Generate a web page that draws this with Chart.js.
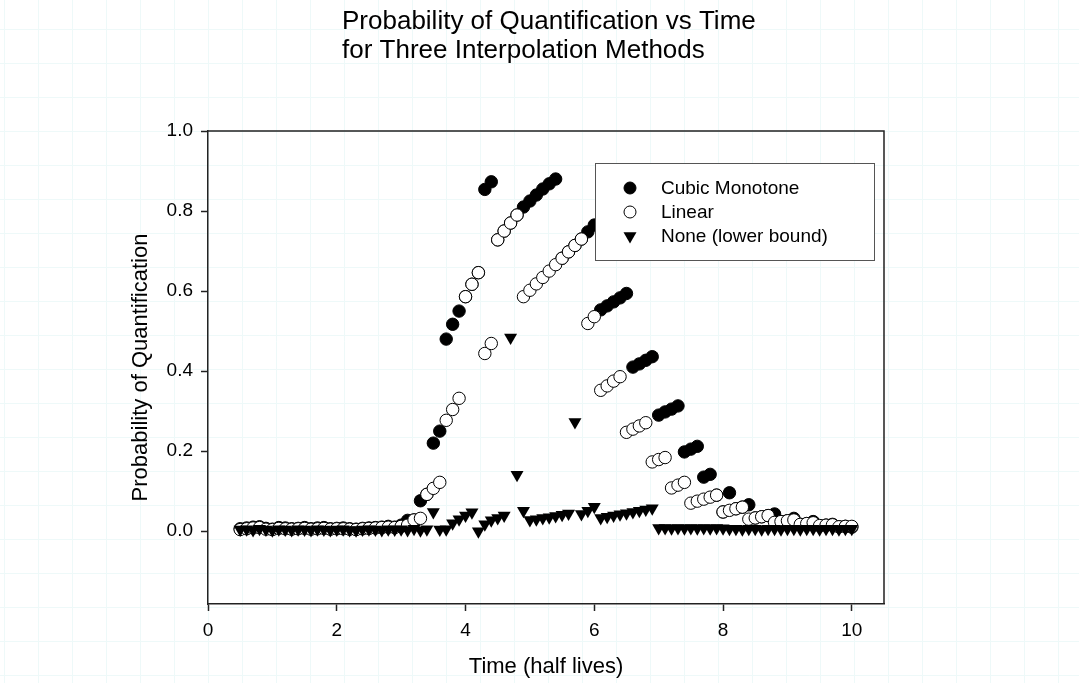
<!DOCTYPE html>
<html>
<head>
<meta charset="utf-8">
<script src="https://cdn.jsdelivr.net/npm/chart.js@4.4.1/dist/chart.umd.min.js"></script>
<style>
  html, body { margin: 0; padding: 0; background: #fff; }
  canvas { display: block; }
</style>
</head>
<body>
<canvas id="quantChart" width="1079" height="683"></canvas>
<script>
// time axis (half lives)
const times = [
  0.5, 0.6, 0.7, 0.8, 0.9, 1.0, 1.1, 1.2, 1.3, 1.4, 1.5, 1.6, 1.7, 1.8, 1.9, 2.0,
  2.1, 2.2, 2.3, 2.4, 2.5, 2.6, 2.7, 2.8, 2.9, 3.0,
  3.1, 3.2, 3.3, 3.4, 3.5, 3.6, 3.7, 3.8, 3.9, 4.0,
  4.1, 4.2, 4.3, 4.4, 4.5, 4.6, 4.7, 4.8, 4.9, 5.0,
  5.1, 5.2, 5.3, 5.4, 5.5, 5.6, 5.7, 5.8, 5.9, 6.0,
  6.1, 6.2, 6.3, 6.4, 6.5, 6.6, 6.7, 6.8, 6.9, 7.0,
  7.1, 7.2, 7.3, 7.4, 7.5, 7.6, 7.7, 7.8, 7.9, 8.0,
  8.1, 8.2, 8.3, 8.4, 8.5, 8.6, 8.7, 8.8, 8.9, 9.0,
  9.1, 9.2, 9.3, 9.4, 9.5, 9.6, 9.7, 9.8, 9.9, 10.0
];

const cubicMonotone = [
  0.006, 0.008, 0.010, 0.011, 0.007, 0.005, 0.009, 0.008, 0.006, 0.007, 0.009, 0.006, 0.008,
  0.009, 0.006, 0.007, 0.008, 0.006, 0.005, 0.007, 0.008, 0.009, 0.010, 0.012, 0.010, 0.015,
  0.027, 0.028, 0.076, 0.092, 0.220, 0.250, 0.480, 0.517, 0.550, 0.586,
  0.617, 0.646, 0.854, 0.873, 0.728, 0.750, 0.770, 0.790, 0.810, 0.825,
  0.840, 0.855, 0.868, 0.880, 0.682, 0.698, 0.714, 0.730, 0.748, 0.765,
  0.553, 0.563, 0.573, 0.583, 0.594, 0.410, 0.418, 0.427, 0.436, 0.290,
  0.298, 0.305, 0.313, 0.198, 0.205, 0.212, 0.135, 0.142, 0.090, 0.048,
  0.096, 0.056, 0.060, 0.066, 0.033, 0.036, 0.039, 0.043, 0.024, 0.026,
  0.032, 0.017, 0.019, 0.024, 0.014, 0.015, 0.017, 0.011, 0.012, 0.010
];

const linearInterp = [
  0.004, 0.006, 0.008, 0.009, 0.005, 0.004, 0.007, 0.006, 0.005, 0.006, 0.007, 0.005, 0.006,
  0.007, 0.005, 0.006, 0.006, 0.005, 0.004, 0.006, 0.007, 0.008, 0.009, 0.010, 0.009, 0.012,
  0.015, 0.028, 0.032, 0.092, 0.107, 0.122, 0.277, 0.304, 0.332, 0.586,
  0.617, 0.646, 0.444, 0.469, 0.728, 0.750, 0.770, 0.790, 0.586, 0.602,
  0.618, 0.634, 0.650, 0.666, 0.682, 0.698, 0.714, 0.730, 0.519, 0.536,
  0.352, 0.363, 0.375, 0.386, 0.247, 0.255, 0.263, 0.271, 0.173, 0.179,
  0.184, 0.108, 0.115, 0.122, 0.070, 0.075, 0.080, 0.085, 0.090, 0.048,
  0.052, 0.056, 0.060, 0.030, 0.033, 0.036, 0.039, 0.022, 0.024, 0.026,
  0.028, 0.017, 0.019, 0.021, 0.014, 0.015, 0.016, 0.011, 0.012, 0.012
];

const noneLowerBound = [
  0.004, 0.005, 0.003, 0.006, 0.004, 0.002, 0.005, 0.004, 0.003, 0.005, 0.004, 0.003, 0.005,
  0.004, 0.003, 0.004, 0.005, 0.003, 0.002, 0.004, 0.005, 0.004, 0.003, 0.005, 0.004, 0.005,
  0.003, 0.006, 0.002, 0.005, 0.048, 0.004, 0.005, 0.020, 0.030, 0.039,
  0.047, 0.000, 0.017, 0.027, 0.033, 0.039, 0.484, 0.141, 0.051, 0.028,
  0.030, 0.033, 0.035, 0.038, 0.041, 0.044, 0.273, 0.043, 0.051, 0.061,
  0.033, 0.036, 0.039, 0.042, 0.045, 0.048, 0.051, 0.054, 0.057, 0.008,
  0.008, 0.007, 0.008, 0.007, 0.008, 0.007, 0.008, 0.007, 0.008, 0.007,
  0.006, 0.006, 0.005, 0.006, 0.006, 0.005, 0.006, 0.006, 0.005, 0.006,
  0.006, 0.005, 0.006, 0.006, 0.005, 0.006, 0.006, 0.005, 0.006, 0.006
];

const seriesNames = ["Cubic Monotone", "Linear", "None (lower bound)"];
const xTicks = [0, 2, 4, 6, 8, 10];
const yTicks = [0.0, 0.2, 0.4, 0.6, 0.8, 1.0];
const titleLines = ["Probability of Quantification vs Time", "for Three Interpolation Methods"];

const FONT = "'Liberation Sans', Arial, sans-serif";

const toPoints = (values) => times.map((t, i) => ({ x: t, y: values[i] }));

// faint page grid behind everything, like the original worksheet
const pageGrid = {
  id: "pageGrid",
  beforeDraw(chart) {
    const { ctx, width, height } = chart;
    ctx.save();
    ctx.fillStyle = "#ffffff";
    ctx.fillRect(0, 0, width, height);
    ctx.strokeStyle = "#eef9f9";
    ctx.lineWidth = 1;
    for (let x = 208 % 34; x < width; x += 34) {
      ctx.beginPath();
      ctx.moveTo(x + 0.5, 0);
      ctx.lineTo(x + 0.5, height);
      ctx.stroke();
    }
    for (let y = 131 % 34; y < height; y += 34) {
      ctx.beginPath();
      ctx.moveTo(0, y + 0.5);
      ctx.lineTo(width, y + 0.5);
      ctx.stroke();
    }
    ctx.restore();
  },
};

// top/right frame and the boxed legend inside the plot
const frameAndLegend = {
  id: "frameAndLegend",
  afterDatasetsDraw(chart) {
    const { ctx, chartArea } = chart;
    ctx.save();
    ctx.strokeStyle = "#222";
    ctx.lineWidth = 1.5;
    ctx.beginPath();
    ctx.moveTo(chartArea.left, chartArea.top);
    ctx.lineTo(chartArea.right, chartArea.top);
    ctx.lineTo(chartArea.right, chartArea.bottom);
    ctx.stroke();

    // legend box
    ctx.fillStyle = "#ffffff";
    ctx.fillRect(595, 163, 279, 97);
    ctx.strokeStyle = "#555";
    ctx.lineWidth = 1;
    ctx.strokeRect(595.5, 163.5, 279, 97);

    const rows = [188, 212, 236];
    const mx = 630;
    rows.forEach((y, i) => {
      ctx.beginPath();
      if (i === 2) {
        const r = 7.5;
        ctx.moveTo(mx, y + r);
        ctx.lineTo(mx - r * 0.866, y - r * 0.5);
        ctx.lineTo(mx + r * 0.866, y - r * 0.5);
        ctx.closePath();
        ctx.fillStyle = "#000";
        ctx.fill();
      } else {
        ctx.arc(mx, y, 6, 0, Math.PI * 2);
        ctx.fillStyle = i === 0 ? "#000" : "#fff";
        ctx.fill();
        ctx.strokeStyle = "#000";
        ctx.lineWidth = 1;
        ctx.stroke();
      }
      ctx.fillStyle = "#000";
      ctx.font = "19px " + FONT;
      ctx.textAlign = "left";
      ctx.textBaseline = "middle";
      ctx.fillText(seriesNames[i], 661, y + 1);
    });
    ctx.restore();
  },
  afterDraw(chart) {
    const { ctx } = chart;
    ctx.save();
    ctx.fillStyle = "#000";
    ctx.font = "26px " + FONT;
    ctx.textAlign = "left";
    ctx.textBaseline = "alphabetic";
    ctx.fillText(titleLines[0], 342, 29);
    ctx.fillText(titleLines[1], 342, 58);
    ctx.restore();
  },
};

const ctx = document.getElementById("quantChart").getContext("2d");

const quantChart = new Chart(ctx, {
  type: "scatter",
  data: {
    datasets: [
      {
        label: seriesNames[0],
        data: toPoints(cubicMonotone),
        pointStyle: "circle",
        pointRadius: 6.2,
        backgroundColor: "#000",
        borderColor: "#000",
        borderWidth: 1,
        order: 3,
      },
      {
        label: seriesNames[1],
        data: toPoints(linearInterp),
        pointStyle: "circle",
        pointRadius: 6.2,
        backgroundColor: "#fff",
        borderColor: "#000",
        borderWidth: 1,
        order: 2,
      },
      {
        label: seriesNames[2],
        data: toPoints(noneLowerBound),
        pointStyle: "triangle",
        rotation: 180,
        pointRadius: 7.5,
        backgroundColor: "#000",
        borderColor: "#000",
        borderWidth: 0,
        order: 1,
      },
    ],
  },
  options: {
    responsive: false,
    animation: false,
    events: [],
    layout: { padding: { left: 0, top: 131, right: 195, bottom: 0 } },
    plugins: {
      legend: { display: false },
      tooltip: { enabled: false },
      title: { display: false },
    },
    scales: {
      x: {
        type: "linear",
        min: 0,
        max: 10.5,
        afterBuildTicks: (axis) => { axis.ticks = xTicks.map((v) => ({ value: v })); },
        afterFit: (axis) => { axis.height = 79; },
        grid: { drawOnChartArea: false, drawTicks: true, tickLength: 7, tickColor: "#222", tickWidth: 1.5 },
        border: { display: true, color: "#222", width: 1.5 },
        ticks: {
          color: "#000",
          padding: 8,
          maxRotation: 0,
          font: { family: FONT, size: 19 },
          callback: (v) => String(v),
        },
        title: {
          display: true,
          text: "Time (half lives)",
          color: "#000",
          font: { family: FONT, size: 22 },
          padding: { top: 0, bottom: 3 },
        },
      },
      y: {
        type: "linear",
        min: -0.182,
        max: 1.0,
        afterBuildTicks: (axis) => { axis.ticks = yTicks.map((v) => ({ value: v })); },
        afterFit: (axis) => { axis.width = 208; },
        grid: { drawOnChartArea: false, drawTicks: true, tickLength: 7, tickColor: "#222", tickWidth: 1.5 },
        border: { display: true, color: "#222", width: 1.5 },
        ticks: {
          color: "#000",
          padding: 8,
          font: { family: FONT, size: 19 },
          callback: (v) => Number(v).toFixed(1),
        },
        title: {
          display: true,
          text: "Probability of Quantification",
          color: "#000",
          font: { family: FONT, size: 22 },
          padding: { top: 128, bottom: 0 },
        },
      },
    },
  },
  plugins: [pageGrid, frameAndLegend],
});
</script>
</body>
</html>
